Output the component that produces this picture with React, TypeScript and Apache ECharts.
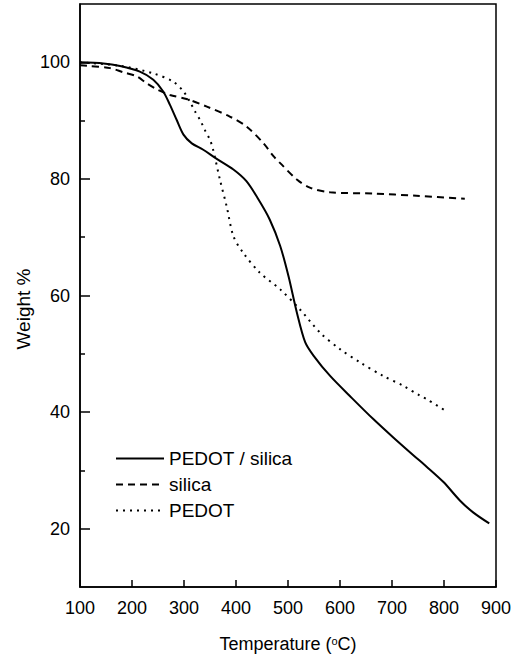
import React, { useEffect, useRef } from "react";
import * as echarts from "echarts";

// Thermogravimetric curves: temperature (°C) vs remaining weight (%)
const compositeTemp = [100, 145, 177, 215, 241, 260, 273, 286, 299, 315, 337, 360, 395, 420, 443, 465, 485, 501, 517, 533, 549, 581, 623, 664, 703, 741, 767, 799, 831, 856, 887];
const compositeWeight = [100, 99.8, 99.35, 98.4, 97.0, 95.0, 92.7, 90.1, 87.6, 86.1, 85.0, 83.6, 81.6, 79.6, 76.5, 73.0, 68.5, 63.3, 57.1, 52.0, 49.7, 46.2, 42.4, 38.8, 35.6, 32.6, 30.6, 28.0, 24.8, 22.8, 20.9];

const silicaTemp = [100, 113, 158, 183, 209, 228, 247, 273, 305, 344, 388, 420, 453, 472, 485, 517, 542, 581, 664, 747, 840];
const silicaWeight = [99.5, 99.4, 99.0, 98.3, 97.6, 96.4, 95.4, 94.4, 93.7, 92.4, 90.7, 89.0, 86.1, 83.9, 82.7, 79.9, 78.5, 77.7, 77.5, 77.1, 76.6];

const pedotTemp = [100, 177, 241, 279, 299, 311, 321, 331, 340, 350, 356, 369, 382, 395, 414, 446, 485, 523, 562, 600, 639, 683, 722, 754, 767, 800];
const pedotWeight = [100, 99.4, 98.1, 96.7, 95.0, 93.3, 91.6, 90.1, 88.4, 86.7, 85.0, 79.9, 75.3, 70.2, 67.3, 63.9, 61.05, 57.6, 53.6, 50.8, 48.5, 46.2, 44.5, 42.8, 42.2, 40.4];

const seriesNames = ["PEDOT / silica", "silica", "PEDOT"];
const xTicks = [100, 200, 300, 400, 500, 600, 700, 800, 900];
const yMajorTicks = [20, 40, 60, 80, 100];
const yMinorTicks = [30, 50, 70, 90];

const zip = (xs: number[], ys: number[]) => xs.map((x, i) => [x, ys[i]]);

const FONT = "'Liberation Sans', Arial, Helvetica, sans-serif";

export default function App() {
  const ref = useRef<HTMLDivElement>(null);

  useEffect(() => {
    if (!ref.current) return;
    const chart = echarts.init(ref.current, undefined, { renderer: "svg" });
    const lineBase = { type: "line" as const, symbol: "none", smooth: 0.3 };
    chart.setOption({
      animation: false,
      backgroundColor: "#fff",
      textStyle: { fontFamily: FONT, color: "#000" },
      grid: {
        left: 80,
        top: 4,
        width: 416,
        height: 583,
        show: true,
        borderColor: "#000",
        borderWidth: 1.5,
        backgroundColor: "transparent",
      },
      legend: {
        orient: "vertical",
        left: 115,
        top: 449,
        padding: 0,
        itemWidth: 48,
        itemHeight: 14,
        itemGap: 7,
        data: seriesNames,
        itemStyle: { opacity: 0, borderWidth: 0 },
        textStyle: { fontFamily: FONT, fontSize: 19, color: "#000" },
      },
      graphic: [
        {
          type: "text",
          x: 23,
          y: 309,
          rotation: Math.PI / 2,
          style: {
            text: "Weight %",
            fontFamily: FONT,
            fontSize: 19,
            fill: "#000",
            align: "center",
            verticalAlign: "middle",
          },
        },
      ],
      xAxis: {
        type: "value",
        min: xTicks[0],
        max: xTicks[xTicks.length - 1],
        interval: 100,
        name: "Temperature ({s|o}C)",
        nameLocation: "middle",
        nameGap: 48,
        nameTextStyle: {
          fontFamily: FONT,
          fontSize: 18,
          color: "#000",
          rich: {
            s: { fontFamily: FONT, fontSize: 11, color: "#000", padding: [0, 0, 7, 0] },
          },
        },
        axisLine: { show: true, lineStyle: { color: "#000", width: 1.5 } },
        axisTick: { show: true, inside: true, length: 7, lineStyle: { color: "#000", width: 1.5 } },
        axisLabel: { fontFamily: FONT, fontSize: 18, color: "#000", margin: 12 },
        splitLine: { show: false },
      },
      yAxis: [
        {
          type: "value",
          min: 10,
          max: 110,
          interval: 10,
          axisLine: { show: true, lineStyle: { color: "#000", width: 1.5 } },
          axisTick: {
            show: true,
            inside: true,
            length: 10,
            customValues: yMajorTicks,
            lineStyle: { color: "#000", width: 1.5 },
          },
          axisLabel: {
            fontFamily: FONT,
            fontSize: 18,
            color: "#000",
            margin: 10,
            customValues: yMajorTicks,
          },
          splitLine: { show: false },
        },
        {
          type: "value",
          min: 10,
          max: 110,
          interval: 10,
          position: "left",
          offset: 0,
          axisLine: { show: false },
          axisTick: {
            show: true,
            inside: true,
            length: 5,
            customValues: yMinorTicks,
            lineStyle: { color: "#000", width: 1.5 },
          },
          axisLabel: { show: false },
          splitLine: { show: false },
        },
      ],
      series: [
        {
          ...lineBase,
          name: seriesNames[0],
          data: zip(compositeTemp, compositeWeight),
          lineStyle: { color: "#000", width: 2, type: "solid" },
          itemStyle: { color: "#000" },
        },
        {
          ...lineBase,
          name: seriesNames[1],
          data: zip(silicaTemp, silicaWeight),
          lineStyle: { color: "#000", width: 2, type: [7, 5] },
          itemStyle: { color: "#000" },
        },
        {
          ...lineBase,
          name: seriesNames[2],
          data: zip(pedotTemp, pedotWeight),
          lineStyle: { color: "#000", width: 2, type: [2, 5] },
          itemStyle: { color: "#000" },
        },
      ],
    });
    return () => chart.dispose();
  }, []);

  return (
    <div
      ref={ref}
      style={{ position: "absolute", left: 0, top: 0, width: 522, height: 658, background: "#fff" }}
    />
  );
}
